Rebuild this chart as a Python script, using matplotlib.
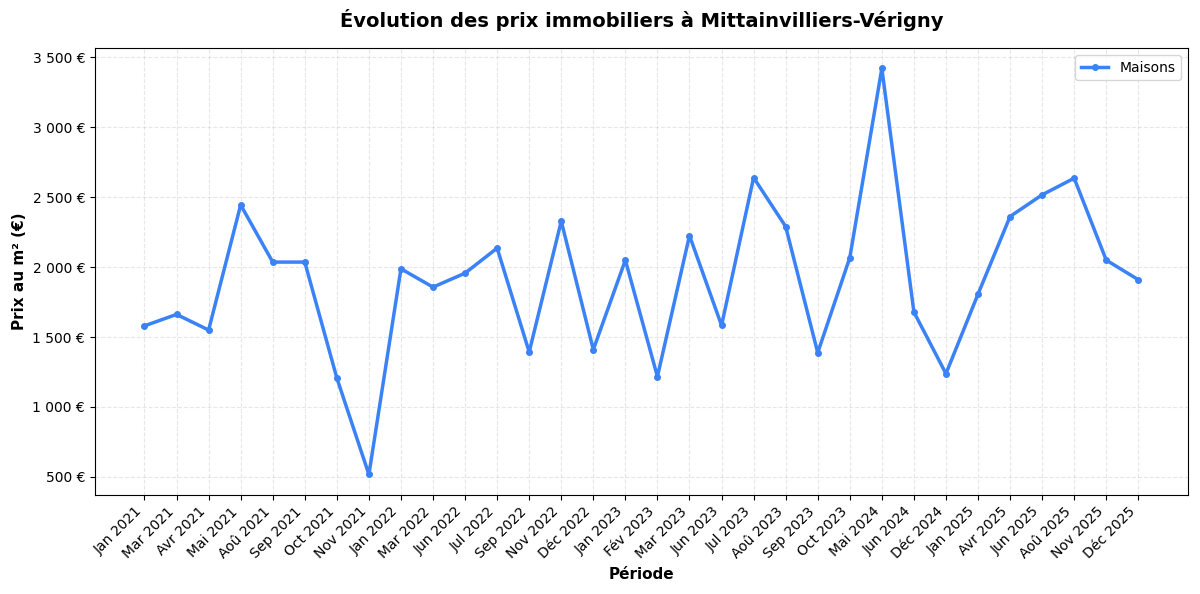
import matplotlib
matplotlib.use("Agg")
import matplotlib.pyplot as plt
from matplotlib.ticker import FuncFormatter

periods = [
    "Jan 2021", "Mar 2021", "Avr 2021", "Mai 2021", "Aoû 2021", "Sep 2021",
    "Oct 2021", "Nov 2021", "Jan 2022", "Mar 2022", "Jun 2022", "Jul 2022",
    "Sep 2022", "Nov 2022", "Déc 2022", "Jan 2023", "Fév 2023", "Mar 2023",
    "Jun 2023", "Jul 2023", "Aoû 2023", "Sep 2023", "Oct 2023", "Mai 2024",
    "Jun 2024", "Déc 2024", "Jan 2025", "Avr 2025", "Jun 2025", "Aoû 2025",
    "Nov 2025", "Déc 2025",
]
maisons = [
    1580, 1662, 1550, 2445, 2036, 2036,
    1207, 517, 1988, 1857, 1957, 2136,
    1393, 2329, 1410, 2050, 1217, 2226,
    1583, 2640, 2290, 1388, 2067, 3421,
    1679, 1238, 1807, 2362, 2517, 2636,
    2050, 1910,
]


def euro(value, _pos):
    return f"{value:,.0f} €".replace(",", " ")


fig, ax = plt.subplots(figsize=(12, 5.94), dpi=100)
x = range(len(periods))
ax.plot(x, maisons, color="#3b82f6", linewidth=2.5, marker="o",
        markersize=4, label="Maisons")

ax.set_xticks(list(x))
ax.set_xticklabels(periods, rotation=45, ha="right", fontsize=10)
ax.yaxis.set_major_formatter(FuncFormatter(euro))
ax.tick_params(axis="y", labelsize=10)

ax.set_title("Évolution des prix immobiliers à Mittainvilliers-Vérigny",
             fontsize=14, fontweight="bold", pad=15)
ax.set_xlabel("Période", fontsize=11, fontweight="bold")
ax.set_ylabel("Prix au m² (€)", fontsize=11, fontweight="bold")
ax.grid(True, linestyle="--", alpha=0.3)
ax.legend(loc="upper right", fontsize=10)

fig.subplots_adjust(left=0.079, right=0.99, top=0.919, bottom=0.167)
fig.savefig("out.png", dpi=100)
